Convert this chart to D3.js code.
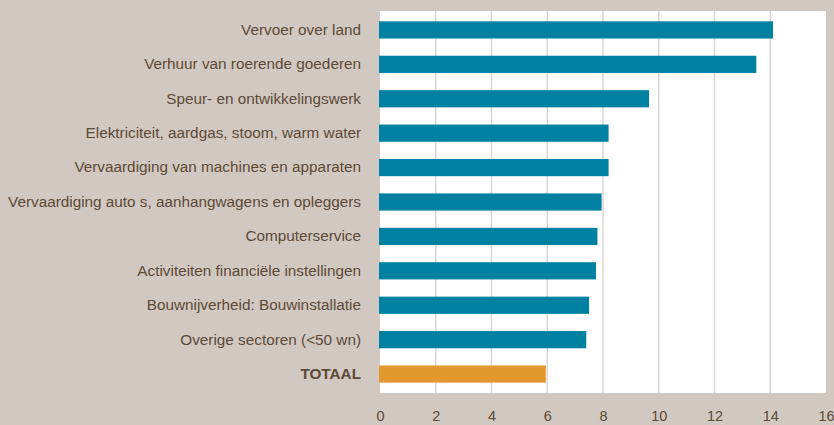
<!DOCTYPE html>
<html>
<head>
<meta charset="utf-8">
<script src="https://cdn.jsdelivr.net/npm/d3@7"></script>
<style>
  html, body { margin: 0; padding: 0; background: #d1c8c1; }
  svg { display: block; }
</style>
</head>
<body>
<svg id="chart" width="834" height="425"></svg>
<script>
const categories = [
    "Vervoer over land",
    "Verhuur van roerende goederen",
    "Speur- en ontwikkelingswerk",
    "Elektriciteit, aardgas, stoom, warm water",
    "Vervaardiging van machines en apparaten",
    "Vervaardiging auto s, aanhangwagens en opleggers",
    "Computerservice",
    "Activiteiten financiële instellingen",
    "Bouwnijverheid: Bouwinstallatie",
    "Overige sectoren (<50 wn)",
    "TOTAAL"
];
const values = [14.1, 13.5, 9.65, 8.2, 8.2, 7.95, 7.8, 7.75, 7.5, 7.4, 5.95];
const xTicks = [0, 2, 4, 6, 8, 10, 12, 14, 16];

const svg = d3.select("#chart");
const margin = {top: 11, right: 8, bottom: 32, left: 380};
const width = 834 - margin.left - margin.right;
const height = 425 - margin.top - margin.bottom;

const textColor = "#5c4a37";
const fontFamily = "'Liberation Sans', Arial, sans-serif";

const x = d3.scaleLinear().domain([0, 16]).range([0, width]);
const y = d3.scaleBand().domain(categories).range([0, height]).paddingInner(0.5).paddingOuter(0.3);

const g = svg.append("g").attr("transform", `translate(${margin.left},${margin.top})`);

g.append("rect")
    .attr("width", width)
    .attr("height", height)
    .attr("fill", "#ffffff");

// vertical gridlines
g.selectAll(".grid")
    .data(xTicks.slice(1, -1))
    .join("line")
    .attr("class", "grid")
    .attr("x1", d => x(d))
    .attr("x2", d => x(d))
    .attr("y1", 0)
    .attr("y2", height)
    .attr("stroke", "#ddd6d0")
    .attr("stroke-width", 1.5);

g.selectAll(".bar")
    .data(values)
    .join("rect")
    .attr("class", "bar")
    .attr("x", -1)
    .attr("y", (d, i) => y(categories[i]))
    .attr("width", d => x(d) + 1)
    .attr("height", y.bandwidth())
    .attr("fill", (d, i) => categories[i] === "TOTAAL" ? "#e2992f" : "#0081a1");

// category labels
const yAxis = g.append("g")
    .call(d3.axisLeft(y).tickSize(0).tickPadding(19));
yAxis.select(".domain").remove();
yAxis.selectAll("text")
    .attr("fill", textColor)
    .attr("font-family", fontFamily)
    .attr("font-size", "15.3px")
    .attr("font-weight", d => d === "TOTAAL" ? "bold" : "normal");

// value axis
const xAxis = g.append("g")
    .attr("transform", `translate(0,${height})`)
    .call(d3.axisBottom(x).tickValues(xTicks).tickSize(0).tickPadding(18));
xAxis.select(".domain").remove();
xAxis.selectAll("text")
    .attr("fill", textColor)
    .attr("font-family", fontFamily)
    .attr("font-size", "14.5px");
</script>
</body>
</html>
